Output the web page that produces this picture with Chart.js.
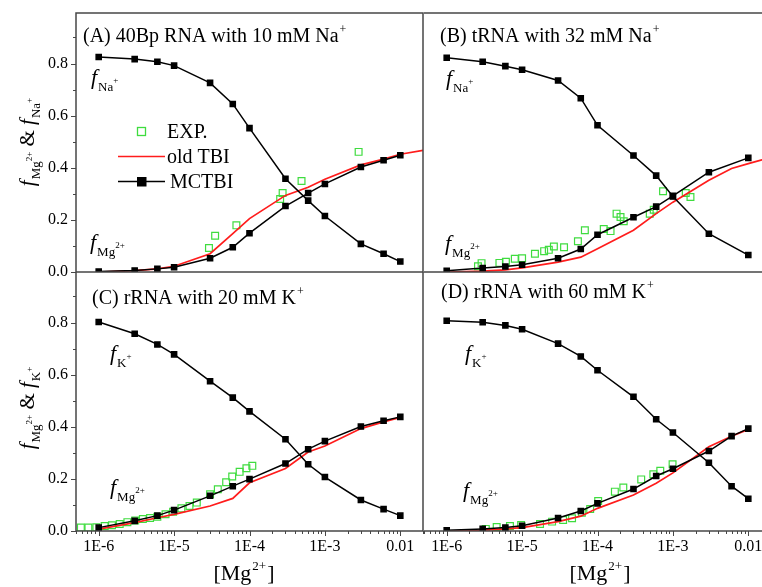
<!DOCTYPE html>
<html>
<head>
<meta charset="utf-8">
<script src="https://cdn.jsdelivr.net/npm/chart.js@4/dist/chart.umd.min.js"></script>
<style>
  html, body { margin: 0; padding: 0; background: #fff; width: 762px; height: 587px; overflow: hidden; }
  canvas { position: absolute; left: 0; top: 0; }
</style>
</head>
<body>
<canvas id="pA" width="780" height="587"></canvas>
<canvas id="pB" width="780" height="587"></canvas>
<canvas id="pC" width="780" height="587"></canvas>
<canvas id="pD" width="780" height="587"></canvas>
<script>
// ---- Mg2+ concentrations (M) used by the models ----
const mcConc   = [1e-6, 3e-6, 6e-6, 1e-5, 3e-5, 6e-5, 1e-4, 3e-4, 6e-4, 1e-3, 3e-3, 6e-3, 1e-2];
const mcConcB  = [1e-6, 3e-6, 6e-6, 1e-5, 3e-5, 6e-5, 1e-4, 3e-4, 6e-4, 1e-3, 3e-3, 1e-2];
const tbiConcLong = [1e-6, 3e-6, 6e-6, 1e-5, 3e-5, 6e-5, 1e-4, 3e-4, 6e-4, 1e-3, 3e-3, 6e-3, 1e-2, 2e-2];

// ---- (A) 40Bp RNA, 10 mM Na+ ----
const aMcNa   = [0.825, 0.817, 0.807, 0.792, 0.726, 0.645, 0.552, 0.358, 0.274, 0.215, 0.108, 0.070, 0.040];
const aMcMg   = [0.002, 0.006, 0.012, 0.018, 0.053, 0.095, 0.149, 0.253, 0.303, 0.338, 0.403, 0.429, 0.448];
const aTbiMg  = [0.000, 0.005, 0.012, 0.022, 0.070, 0.147, 0.205, 0.294, 0.325, 0.356, 0.411, 0.433, 0.452, 0.467];
const aExpConc = [2.9e-5, 3.5e-5, 6.7e-5, 2.55e-4, 2.75e-4, 4.9e-4, 2.8e-3];
const aExpMg   = [0.092, 0.139, 0.179, 0.280, 0.303, 0.349, 0.461];

// ---- (B) tRNA, 32 mM Na+ ----
const bMcNa   = [0.822, 0.807, 0.790, 0.776, 0.735, 0.667, 0.563, 0.447, 0.370, 0.290, 0.147, 0.065];
const bMcMg   = [0.005, 0.015, 0.021, 0.028, 0.053, 0.088, 0.143, 0.210, 0.251, 0.292, 0.383, 0.438];
const bTbiMg  = [0.000, 0.003, 0.008, 0.016, 0.038, 0.057, 0.089, 0.160, 0.224, 0.268, 0.352, 0.397, 0.416, 0.440];
const bExpConc = [2.6e-6, 2.9e-6, 5.0e-6, 6.1e-6, 8.0e-6, 1.0e-5, 1.48e-5, 1.96e-5, 2.26e-5, 2.64e-5, 3.6e-5,
                  5.5e-5, 6.8e-5, 1.21e-4, 1.49e-4, 1.79e-4, 2.02e-4, 2.23e-4, 4.93e-4, 5.57e-4, 7.4e-4, 1.48e-3, 1.71e-3];
const bExpMg   = [0.022, 0.034, 0.035, 0.039, 0.051, 0.053, 0.070, 0.080, 0.085, 0.098, 0.095,
                  0.118, 0.160, 0.165, 0.157, 0.224, 0.211, 0.195, 0.224, 0.239, 0.310, 0.303, 0.288];

// ---- (C) rRNA, 20 mM K+ ----
const cMcK    = [0.802, 0.757, 0.716, 0.678, 0.575, 0.512, 0.459, 0.352, 0.256, 0.207, 0.119, 0.084, 0.059];
const cMcMg   = [0.013, 0.039, 0.059, 0.080, 0.135, 0.172, 0.199, 0.259, 0.314, 0.345, 0.401, 0.423, 0.438];
const cTbiMg  = [0.007, 0.032, 0.051, 0.064, 0.096, 0.125, 0.185, 0.240, 0.303, 0.326, 0.393, 0.419, 0.436];
const cExpConc = [5.8e-7, 7.3e-7, 9.3e-7, 1.2e-6, 1.5e-6, 1.9e-6, 2.4e-6, 3.05e-6, 3.85e-6, 4.8e-6, 6.0e-6, 7.7e-6,
                  9.7e-6, 1.25e-5, 1.6e-5, 2.0e-5, 3.0e-5, 3.8e-5, 4.9e-5, 5.9e-5, 7.4e-5, 9.1e-5, 1.09e-4];
const cExpMg   = [0.013, 0.013, 0.014, 0.019, 0.022, 0.027, 0.034, 0.040, 0.046, 0.050, 0.055, 0.064,
                  0.074, 0.087, 0.096, 0.109, 0.141, 0.160, 0.187, 0.209, 0.227, 0.241, 0.250];

// ---- (D) rRNA, 60 mM K+ ----
const dMcK    = [0.807, 0.801, 0.789, 0.774, 0.719, 0.670, 0.617, 0.515, 0.429, 0.378, 0.262, 0.172, 0.124];
const dMcMg   = [0.003, 0.008, 0.013, 0.020, 0.050, 0.077, 0.106, 0.161, 0.211, 0.239, 0.307, 0.364, 0.393];
const dTbiMg  = [0.000, 0.003, 0.008, 0.013, 0.036, 0.057, 0.087, 0.138, 0.183, 0.223, 0.323, 0.364, 0.390];
const dExpConc = [3.3e-6, 4.6e-6, 6.9e-6, 9.7e-6, 1.73e-5, 2.5e-5, 3.5e-5, 4.6e-5, 6.2e-5, 8.0e-5, 1.02e-4,
                  1.7e-4, 2.2e-4, 3.8e-4, 5.5e-4, 6.8e-4, 9.9e-4];
const dExpMg   = [0.008, 0.015, 0.019, 0.023, 0.027, 0.036, 0.042, 0.049, 0.070, 0.084, 0.115,
                  0.151, 0.167, 0.198, 0.218, 0.231, 0.256];

// ---- axis ranges and tick labels ----
const concMin = 5e-7, concMax = 2e-2;
const fracMin = 0, fracMax = 0.994;
const decadeLabels = { '-6': '1E-6', '-5': '1E-5', '-4': '1E-4', '-3': '1E-3', '-2': '0.01' };

// ---- styling ----
const FONT = '"Liberation Serif", "Times New Roman", serif';
const GREEN = '#3fdc3f', RED = '#ff1c1c', BLACK = '#000000', AXIS = '#474747';
const PW = 347, PH = 259;          // plot box size
const YAXIS_W = 76, XAXIS_H = 56;  // room reserved for tick labels
const CW = 780, CH = 587;

function pts(xs, ys) { return xs.map((x, i) => ({ x: x, y: ys[i] })); }

function richWidth(ctx, parts) {
  let w = 0;
  for (const p of parts) {
    ctx.font = (p.it ? 'italic ' : '') + p.s + 'px ' + FONT;
    w += ctx.measureText(p.t).width + (p.dx || 0);
  }
  return w;
}
function drawRich(ctx, x, y, parts) {
  for (const p of parts) {
    ctx.font = (p.it ? 'italic ' : '') + p.s + 'px ' + FONT;
    x += (p.dx || 0);
    ctx.fillText(p.t, x, y + (p.dy || 0));
    x += ctx.measureText(p.t).width;
  }
}
const fLabel = (ion, sup) => [
  { t: 'f', s: 22, it: true },
  { t: ion, s: 13, dy: 7, dx: 1 },
  { t: sup, s: 9, dy: -1 }
];
const sup = (main, plus) => [{ t: main, s: 20 }, { t: plus, s: 12, dy: -9, dx: 1 }];

function datasets(expC, expF, tbiC, tbiF, mcC, mgF, monoF) {
  return [
    { label: 'EXP.', data: pts(expC, expF), showLine: false, pointStyle: 'rect', pointRadius: 4.8,
      borderColor: GREEN, backgroundColor: 'rgba(0,0,0,0)', borderWidth: 1.2, order: 3 },
    { label: 'old TBI', data: pts(tbiC, tbiF), showLine: true, pointRadius: 0, borderColor: RED,
      borderWidth: 1.7, tension: 0, order: 2 },
    { label: 'MCTBI', data: pts(mcC, mgF), showLine: true, pointStyle: 'rect', pointRadius: 3.6,
      borderColor: BLACK, backgroundColor: BLACK, borderWidth: 1.5, tension: 0, order: 1 },
    { label: 'MCTBI', data: pts(mcC, monoF), showLine: true, pointStyle: 'rect', pointRadius: 3.6,
      borderColor: BLACK, backgroundColor: BLACK, borderWidth: 1.5, tension: 0, order: 1 }
  ];
}

const panels = [
  { id: 'pA', left: 76, top: 13, showX: false, showY: true, frame: 'full',
    data: datasets(aExpConc, aExpMg, tbiConcLong, aTbiMg, mcConc, aMcMg, aMcNa),
    title: { x: 83, y: 42, parts: sup('(A) 40Bp RNA with 10 mM Na', '+') },
    labels: [ { x: 91, y: 84, parts: fLabel('Na', '+') }, { x: 90, y: 249, parts: fLabel('Mg', '2+') } ],
    yTitle: { cy: 142, ion: 'Na', plus: '+' }, legend: true },
  { id: 'pB', left: 424, top: 13, showX: false, showY: false, frame: 'open',
    data: datasets(bExpConc, bExpMg, tbiConcLong, bTbiMg, mcConcB, bMcMg, bMcNa),
    title: { x: 440, y: 42, parts: sup('(B) tRNA with 32 mM Na', '+') },
    labels: [ { x: 446, y: 85, parts: fLabel('Na', '+') }, { x: 445, y: 250, parts: fLabel('Mg', '2+') } ] },
  { id: 'pC', left: 76, top: 272, showX: true, showY: true, frame: 'noTop',
    data: datasets(cExpConc, cExpMg, mcConc, cTbiMg, mcConc, cMcMg, cMcK),
    title: { x: 92, y: 304, parts: sup('(C) rRNA with 20 mM K', '+') },
    labels: [ { x: 110, y: 360, parts: fLabel('K', '+') }, { x: 110, y: 494, parts: fLabel('Mg', '2+') } ],
    yTitle: { cy: 408, ion: 'K', plus: '+' }, xTitle: { cx: 244 } },
  { id: 'pD', left: 424, top: 272, showX: true, showY: false, frame: 'bottomOnly',
    data: datasets(dExpConc, dExpMg, mcConc, dTbiMg, mcConc, dMcMg, dMcK),
    title: { x: 441, y: 298, parts: sup('(D) rRNA with 60 mM K', '+') },
    labels: [ { x: 465, y: 360, parts: fLabel('K', '+') }, { x: 463, y: 497, parts: fLabel('Mg', '2+') } ],
    xTitle: { cx: 600 } }
];

function isWholeSignificand(v) {
  const e = Math.floor(Math.log10(v) + 1e-9);
  const m = v / Math.pow(10, e);
  return Math.abs(m - Math.round(m)) < 1e-6 ? Math.round(m) : 0;
}

function decorations(p) {
  return {
    id: 'decor_' + p.id,
    afterDraw(chart) {
      const { ctx, chartArea: ca, scales } = chart;
      ctx.save();
      // tick marks
      ctx.strokeStyle = AXIS;
      ctx.lineWidth = 1;
      ctx.beginPath();
      if (p.showX) {
        for (const t of scales.x.ticks) {
          const m = isWholeSignificand(t.value);
          if (!m) continue;
          const len = m === 1 ? 5 : 3;
          const px = Math.round(scales.x.getPixelForValue(t.value)) + 0.5;
          ctx.moveTo(px, ca.bottom);
          ctx.lineTo(px, ca.bottom + len);
        }
      }
      if (p.showY) {
        for (const t of scales.y.ticks) {
          const len = Math.round(t.value * 10) % 2 === 0 ? 5 : 3;
          const py = Math.round(scales.y.getPixelForValue(t.value)) + 0.5;
          ctx.moveTo(ca.left - len, py);
          ctx.lineTo(ca.left, py);
        }
      }
      ctx.stroke();

      // panel frame
      ctx.lineWidth = 1.5;
      ctx.beginPath();
      const L = ca.left, R = ca.right, T = ca.top, B = ca.bottom;
      if (p.frame === 'full') { ctx.rect(L, T, R - L, B - T); }
      if (p.frame === 'open') { ctx.moveTo(L, T); ctx.lineTo(R, T); ctx.moveTo(L, B); ctx.lineTo(R, B); }
      if (p.frame === 'noTop') { ctx.moveTo(L, T); ctx.lineTo(L, B); ctx.lineTo(R, B); ctx.lineTo(R, T); }
      if (p.frame === 'bottomOnly') { ctx.moveTo(L, B); ctx.lineTo(R, B); }
      ctx.stroke();

      // texts
      ctx.fillStyle = '#000';
      ctx.textBaseline = 'alphabetic';
      ctx.textAlign = 'left';
      drawRich(ctx, p.title.x, p.title.y, p.title.parts);
      for (const l of p.labels) drawRich(ctx, l.x, l.y, l.parts);

      if (p.yTitle) {
        const parts = [
          { t: 'f', s: 21, it: true }, { t: 'Mg', s: 13, dy: 6, dx: 1 }, { t: '2+', s: 9, dy: -2 },
          { t: ' & ', s: 21 },
          { t: 'f', s: 21, it: true }, { t: p.yTitle.ion, s: 13, dy: 6, dx: 1 }, { t: p.yTitle.plus, s: 9, dy: -2 }
        ];
        ctx.save();
        ctx.translate(34, p.yTitle.cy);
        ctx.rotate(-Math.PI / 2);
        const w = richWidth(ctx, parts);
        drawRich(ctx, -w / 2, 0, parts);
        ctx.restore();
      }
      if (p.xTitle) {
        const parts = [{ t: '[Mg', s: 22 }, { t: '2+', s: 13, dy: -10, dx: 1 }, { t: ']', s: 22, dx: 1 }];
        const w = richWidth(ctx, parts);
        drawRich(ctx, p.xTitle.cx - w / 2, 580, parts);
      }

      if (p.legend) {
        const ds = chart.data.datasets;
        ctx.font = '20px ' + FONT;
        // EXP.
        ctx.strokeStyle = ds[0].borderColor;
        ctx.lineWidth = 1.3;
        ctx.strokeRect(137.5, 127.5, 8, 8);
        ctx.fillText(ds[0].label, 167, 138);
        // old TBI
        ctx.strokeStyle = ds[1].borderColor;
        ctx.lineWidth = 1.7;
        ctx.beginPath(); ctx.moveTo(118, 156.5); ctx.lineTo(165, 156.5); ctx.stroke();
        ctx.fillText(ds[1].label, 167, 163);
        // MCTBI
        ctx.strokeStyle = ds[2].borderColor;
        ctx.lineWidth = 1.5;
        ctx.beginPath(); ctx.moveTo(118, 181.5); ctx.lineTo(165, 181.5); ctx.stroke();
        ctx.fillStyle = ds[2].backgroundColor;
        ctx.fillRect(137, 177, 9.5, 9.5);
        ctx.fillStyle = '#000';
        ctx.fillText(ds[2].label, 170, 188);
      }
      ctx.restore();
    }
  };
}

for (const p of panels) {
  const right = p.left + PW, bottom = p.top + PH;
  new Chart(document.getElementById(p.id), {
    type: 'scatter',
    data: { datasets: p.data },
    options: {
      responsive: false,
      animation: false,
      events: [],
      layout: {
        padding: {
          left: p.showY ? p.left - YAXIS_W : p.left,
          right: CW - right,
          top: p.top,
          bottom: CH - bottom - (p.showX ? XAXIS_H : 0)
        }
      },
      plugins: { legend: { display: false }, tooltip: { enabled: false } },
      scales: {
        x: {
          type: 'logarithmic', min: concMin, max: concMax, display: p.showX,
          grid: { display: false, drawTicks: true, tickLength: 5 },
          border: { display: false },
          ticks: {
            autoSkip: false, maxRotation: 0, minRotation: 0, padding: 1,
            font: { family: FONT, size: 16 }, color: '#000',
            callback: (v) => {
              const e = Math.log10(v);
              if (Math.abs(e - Math.round(e)) > 1e-6) return '';
              return decadeLabels[String(Math.round(e))] || '';
            }
          },
          afterFit: (s) => { if (p.showX) s.height = XAXIS_H; }
        },
        y: {
          type: 'linear', min: fracMin, max: fracMax, display: p.showY,
          grid: { display: false, drawTicks: true, tickLength: 5 },
          border: { display: false },
          ticks: {
            stepSize: 0.1, includeBounds: false, padding: 3,
            font: { family: FONT, size: 16 }, color: '#000',
            callback: (v) => (Math.round(v * 10) % 2 === 0 ? v.toFixed(1) : '')
          },
          afterFit: (s) => { if (p.showY) s.width = YAXIS_W; }
        }
      }
    },
    plugins: [decorations(p)]
  });
}
</script>
</body>
</html>
